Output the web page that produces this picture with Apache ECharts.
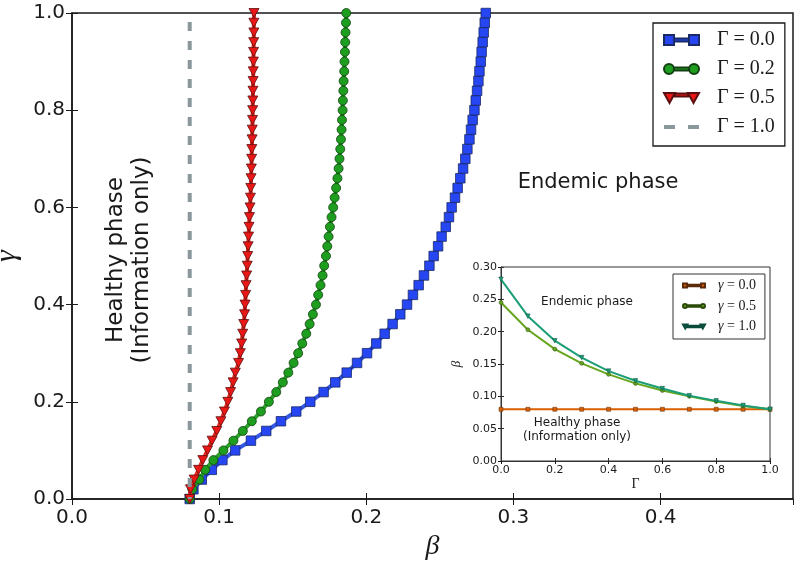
<!DOCTYPE html>
<html><head><meta charset="utf-8">
<script src="https://cdn.jsdelivr.net/npm/echarts@6/dist/echarts.min.js"></script>
<style>html,body{margin:0;padding:0;background:#fff}#c{width:799px;height:565px}</style>
</head><body><div id="c"></div>
<script>
// ---- main panel: critical beta vs gamma for several Gamma ----
const gammaValues = [0,0.02,0.04,0.06,0.08,0.10,0.12,0.14,0.16,0.18,0.20,0.22,0.24,0.26,0.28,0.30,0.32,0.34,0.36,0.38,0.40,0.42,0.44,0.46,0.48,0.50,0.52,0.54,0.56,0.58,0.60,0.62,0.64,0.66,0.68,0.70,0.72,0.74,0.76,0.78,0.80,0.82,0.84,0.86,0.88,0.90,0.92,0.94,0.96,0.98,1.00];
const betaGamma00 = [0.0800,0.0825,0.0882,0.0950,0.1022,0.1109,0.1216,0.1320,0.1420,0.1524,0.1619,0.1710,0.1789,0.1867,0.1937,0.2005,0.2068,0.2125,0.2179,0.2231,0.2277,0.2317,0.2356,0.2392,0.2429,0.2458,0.2488,0.2512,0.2540,0.2562,0.2580,0.2603,0.2621,0.2639,0.2658,0.2673,0.2687,0.2701,0.2712,0.2723,0.2735,0.2744,0.2753,0.2762,0.2769,0.2778,0.2784,0.2791,0.2798,0.2805,0.2812];
const betaGamma02 = [0.0800,0.0818,0.0866,0.0905,0.0961,0.1029,0.1097,0.1161,0.1222,0.1284,0.1338,0.1388,0.1433,0.1470,0.1506,0.1537,0.1565,0.1592,0.1615,0.1637,0.1658,0.1673,0.1689,0.1703,0.1714,0.1726,0.1735,0.1744,0.1753,0.1764,0.1775,0.1785,0.1795,0.1804,0.1812,0.1818,0.1823,0.1828,0.1832,0.1835,0.1839,0.1841,0.1844,0.1846,0.1850,0.1852,0.1855,0.1857,0.1859,0.1862,0.1864];
const betaGamma05 = [0.0800,0.0805,0.0830,0.0860,0.0889,0.0921,0.0952,0.0984,0.1012,0.1036,0.1059,0.1078,0.1095,0.1110,0.1132,0.1144,0.1153,0.1160,0.1167,0.1173,0.1176,0.1180,0.1183,0.1187,0.1191,0.1194,0.1197,0.1200,0.1203,0.1206,0.1210,0.1213,0.1215,0.1217,0.1219,0.1221,0.1222,0.1224,0.1225,0.1227,0.1228,0.1229,0.1230,0.1231,0.1232,0.1233,0.1234,0.1235,0.1236,0.1236,0.1237];
const gammaEnds = [1, 0];
const betaGamma10 = [0.08, 0.08];
const mainNames = ['Γ = 0.0', 'Γ = 0.2', 'Γ = 0.5', 'Γ = 1.0'];

// ---- inset: critical beta vs Gamma for several gamma ----
const insetCapGamma = [0,0.1,0.2,0.3,0.4,0.5,0.6,0.7,0.8,0.9,1.0];
const insetBetaG00 = [0.080,0.080,0.080,0.080,0.080,0.080,0.080,0.080,0.080,0.080,0.080];
const insetBetaG05 = [0.245,0.203,0.173,0.151,0.134,0.120,0.109,0.100,0.092,0.085,0.080];
const insetBetaG10 = [0.281,0.224,0.186,0.160,0.139,0.124,0.112,0.101,0.093,0.086,0.080];
const insetNames = ['γ = 0.0', 'γ = 0.5', 'γ = 1.0'];

const zip = (xs, ys) => xs.map((x, i) => [x, ys[i]]);
const f1 = v => v.toFixed(1);
const f2 = v => v.toFixed(2);
const SANS = 'DejaVu Sans';
const SERIF = 'Liberation Serif';
const ink = '#1a1a1a';

const tickAxis = (grid, pos, extra) => Object.assign({
  gridIndex: grid, type: 'value', position: pos,
  axisLine: {show: false}, axisLabel: {show: false}, splitLine: {show: false},
  axisTick: {show: true, inside: true, length: grid === 0 ? 6 : 3, lineStyle: {color: ink, width: 1}}
}, extra);

const chart = echarts.init(document.getElementById('c'), null, {renderer: 'canvas'});
chart.setOption({
  animation: false,
  backgroundColor: '#fff',
  grid: [
    {left: 72, top: 13, width: 721, height: 486, show: true, borderColor: ink, borderWidth: 1.5, backgroundColor: '#fff', containLabel: false, outerBoundsMode: 'none'},
    {left: 501, top: 267, width: 269, height: 194, show: true, borderColor: '#333', borderWidth: 1, backgroundColor: '#fff', containLabel: false, outerBoundsMode: 'none'}
  ],
  xAxis: [
    {gridIndex: 0, type: 'value', min: 0, max: 0.49, interval: 0.1, position: 'bottom',
     axisLine: {show: true, lineStyle: {color: ink, width: 1.5}},
     axisTick: {show: true, inside: true, length: 6, lineStyle: {color: ink}},
     axisLabel: {formatter: f1, fontSize: 20, fontFamily: SANS, color: ink, margin: 9, showMaxLabel: false},
     splitLine: {show: false},
     name: 'β', nameLocation: 'middle', nameGap: 30,
     nameTextStyle: {fontFamily: SERIF, fontStyle: 'italic', fontSize: 28, color: ink}},
    tickAxis(0, 'top', {min: 0, max: 0.49, interval: 0.1}),
    {gridIndex: 1, type: 'value', min: 0, max: 1, interval: 0.2, position: 'bottom',
     axisLine: {show: true, lineStyle: {color: '#333', width: 1}},
     axisTick: {show: true, inside: true, length: 3, lineStyle: {color: '#333'}},
     axisLabel: {formatter: f1, fontSize: 11, fontFamily: SANS, color: ink, margin: 4},
     splitLine: {show: false},
     name: 'Γ', nameLocation: 'middle', nameGap: 16,
     nameTextStyle: {fontFamily: SERIF, fontSize: 14, color: ink}},
    tickAxis(1, 'top', {min: 0, max: 1, interval: 0.2})
  ],
  yAxis: [
    {gridIndex: 0, type: 'value', min: 0, max: 1, interval: 0.2, position: 'left',
     axisLine: {show: true, lineStyle: {color: ink, width: 1.5}},
     axisTick: {show: true, inside: true, length: 6, lineStyle: {color: ink}},
     axisLabel: {formatter: f1, fontSize: 20, fontFamily: SANS, color: ink, margin: 7},
     splitLine: {show: false},
     name: 'γ', nameLocation: 'middle', nameGap: 46,
     nameTextStyle: {fontFamily: SERIF, fontStyle: 'italic', fontSize: 30, color: ink}},
    tickAxis(0, 'right', {min: 0, max: 1, interval: 0.2}),
    {gridIndex: 1, type: 'value', min: 0, max: 0.3, interval: 0.05, position: 'left',
     axisLine: {show: true, lineStyle: {color: '#333', width: 1}},
     axisTick: {show: true, inside: true, length: 3, lineStyle: {color: '#333'}},
     axisLabel: {formatter: f2, fontSize: 11, fontFamily: SANS, color: ink, margin: 4},
     splitLine: {show: false},
     name: 'β', nameLocation: 'middle', nameGap: 38,
     nameTextStyle: {fontFamily: SERIF, fontStyle: 'italic', fontSize: 13, color: ink}},
    tickAxis(1, 'right', {min: 0, max: 0.3, interval: 0.05})
  ],
  legend: [
    {left: 653, top: 23, orient: 'vertical', padding: [7, 10, 9, 10], itemGap: 9,
     itemWidth: 35, itemHeight: 12, backgroundColor: '#fff', borderColor: ink, borderWidth: 1.3, borderRadius: 0,
     textStyle: {fontFamily: SERIF, fontSize: 20, color: ink, lineHeight: 20, padding: [0, 0, 0, 13]},
     data: [
       {name: mainNames[0], icon: 'path://M0 1h10v10h-10z M10 4.5h15v3h-15z M25 1h10v10h-10z'},
       {name: mainNames[1], icon: 'path://M0 6a5 5 0 1 0 10 0a5 5 0 1 0 -10 0z M10 4.5h15v3h-15z M25 6a5 5 0 1 0 10 0a5 5 0 1 0 -10 0z'},
       {name: mainNames[2], icon: 'path://M0 1h11l-5.5 10z M11 1.5h13v3h-13z M24 1h11l-5.5 10z'},
       {name: mainNames[3], icon: 'path://M0 4h11v4h-11z M24 4h11v4h-11z'}
     ]},
    {left: 673, top: 274, orient: 'vertical', padding: [4, 9, 5, 9], itemGap: 5.5,
     itemWidth: 22, itemHeight: 6, backgroundColor: '#fff', borderColor: '#333', borderWidth: 1, borderRadius: 0,
     textStyle: {fontFamily: SERIF, fontSize: 14, color: ink, lineHeight: 15, padding: [0, 0, 0, 8],
       rich: {i: {fontFamily: SERIF, fontStyle: 'italic', fontSize: 14, color: ink}, n: {fontFamily: SERIF, fontSize: 14, color: ink}}},
     formatter: name => '{i|γ}{n|' + name.slice(1) + '}',
     data: [
       {name: insetNames[0], icon: 'path://M0 1h4v4h-4z M4 2.2h14v1.6h-14z M18 1h4v4h-4z'},
       {name: insetNames[1], icon: 'path://M0 3a2 2 0 1 0 4 0a2 2 0 1 0 -4 0z M4 2.2h14v1.6h-14z M18 3a2 2 0 1 0 4 0a2 2 0 1 0 -4 0z'},
       {name: insetNames[2], icon: 'path://M0 1h4.4l-2.2 4z M4.4 2.2h13.2v1.6h-13.2z M17.6 1h4.4l-2.2 4z'}
     ]}
  ],
  graphic: [
    {type: 'text', position: [598, 183], style: {text: 'Endemic phase', align: 'center', verticalAlign: 'middle', font: '21px "DejaVu Sans"', fill: ink}},
    {type: 'text', position: [116, 260], rotation: Math.PI / 2, style: {text: 'Healthy phase', align: 'center', verticalAlign: 'middle', font: '23px "DejaVu Sans"', fill: ink}},
    {type: 'text', position: [142, 260], rotation: Math.PI / 2, style: {text: '(Information only)', align: 'center', verticalAlign: 'middle', font: '23px "DejaVu Sans"', fill: ink}},
    {type: 'text', position: [587, 302], style: {text: 'Endemic phase', align: 'center', verticalAlign: 'middle', font: '12px "DejaVu Sans"', fill: ink}},
    {type: 'text', position: [577, 423], style: {text: 'Healthy phase', align: 'center', verticalAlign: 'middle', font: '12px "DejaVu Sans"', fill: ink}},
    {type: 'text', position: [577, 437], style: {text: '(Information only)', align: 'center', verticalAlign: 'middle', font: '12px "DejaVu Sans"', fill: ink}}
  ],
  series: [
    {name: mainNames[0], type: 'line', xAxisIndex: 0, yAxisIndex: 0, data: zip(betaGamma00, gammaValues),
     symbol: 'rect', symbolSize: 9.5, showSymbol: true,
     lineStyle: {color: '#3558e4', width: 4},
     itemStyle: {color: '#2546f2', borderColor: '#1a2a66', borderWidth: 0.8}, z: 2},
    {name: mainNames[1], type: 'line', xAxisIndex: 0, yAxisIndex: 0, data: zip(betaGamma02, gammaValues),
     symbol: 'circle', symbolSize: 9, showSymbol: true,
     lineStyle: {color: '#2aa02a', width: 4},
     itemStyle: {color: '#1e9e1e', borderColor: '#134013', borderWidth: 0.8}, z: 3},
    {name: mainNames[2], type: 'line', xAxisIndex: 0, yAxisIndex: 0, data: zip(betaGamma05, gammaValues),
     symbol: 'triangle', symbolRotate: 180, symbolSize: [10, 9], showSymbol: true,
     lineStyle: {color: '#e62a1f', width: 4},
     itemStyle: {color: '#ea1717', borderColor: '#5a1010', borderWidth: 0.8}, z: 4},
    {name: mainNames[3], type: 'line', xAxisIndex: 0, yAxisIndex: 0, data: zip(betaGamma10, gammaEnds),
     symbol: 'none', showSymbol: false,
     lineStyle: {color: '#8a979b', width: 4, type: [9, 10], dashOffset: 10, cap: 'butt'},
     itemStyle: {color: '#8a979b', borderWidth: 0}, z: 5},
    {name: insetNames[0], type: 'line', xAxisIndex: 2, yAxisIndex: 2, data: zip(insetCapGamma, insetBetaG00),
     symbol: 'rect', symbolSize: 4, lineStyle: {color: '#d95f02', width: 2},
     itemStyle: {color: '#d95f02', borderColor: '#5a2a0a', borderWidth: 0.5}, z: 6},
    {name: insetNames[1], type: 'line', xAxisIndex: 2, yAxisIndex: 2, data: zip(insetCapGamma, insetBetaG05),
     symbol: 'circle', symbolSize: 4, lineStyle: {color: '#66a61e', width: 2},
     itemStyle: {color: '#66a61e', borderColor: '#2a4a0a', borderWidth: 0.5}, z: 7},
    {name: insetNames[2], type: 'line', xAxisIndex: 2, yAxisIndex: 2, data: zip(insetCapGamma, insetBetaG10),
     symbol: 'triangle', symbolRotate: 180, symbolSize: 4.5, lineStyle: {color: '#1b9e77', width: 2},
     itemStyle: {color: '#1b9e77', borderColor: '#0a4a3a', borderWidth: 0.5}, z: 8}
  ]
});
</script>
</body></html>
